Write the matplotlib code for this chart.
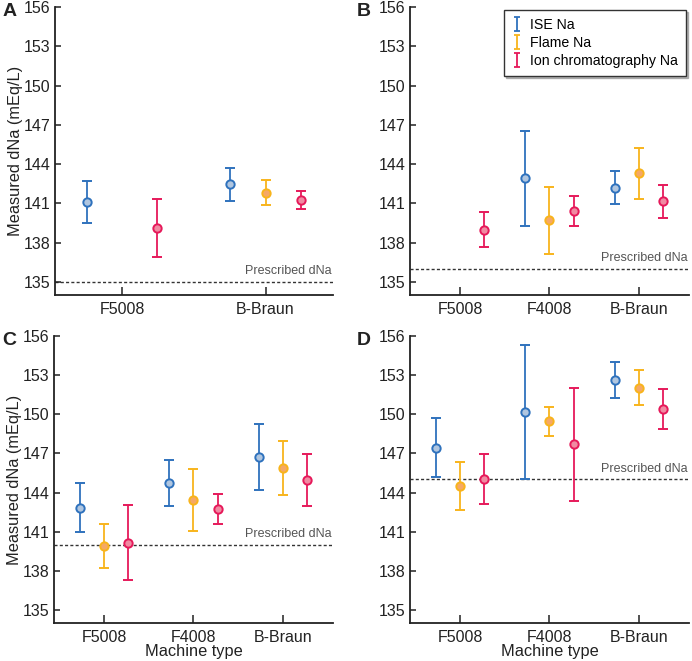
import numpy as np
import matplotlib
matplotlib.use('Agg')
import matplotlib.pyplot as plt

plt.rcParams['font.family'] = ['Liberation Sans', 'DejaVu Sans']

# Data: mean and half-width of error bar, per panel / machine / method
methods = ['ISE Na', 'Flame Na', 'Ion chromatography Na']
colors = ['#2f72bd', '#f8b41c', '#e6195a']
fills = ['#b0c6e0', '#f5a866', '#f08aa2']

machines_A = ['F5008', 'B-Braun']
mean_A = [[141.1, None, 139.1],
          [142.45, 141.8, 141.25]]
err_A = [[1.62, None, 2.23],
         [1.24, 0.95, 0.68]]
prescribed_A = 135

machines_BCD = ['F5008', 'F4008', 'B-Braun']
mean_B = [[None, None, 139.0],
          [142.9, 139.7, 140.4],
          [142.2, 143.3, 141.15]]
err_B = [[None, None, 1.36],
         [3.64, 2.56, 1.14],
         [1.25, 1.93, 1.27]]
prescribed_B = 136

mean_C = [[142.85, 139.9, 140.15],
          [144.75, 143.4, 142.75],
          [146.75, 145.9, 144.95]]
err_C = [[1.9, 1.66, 2.86],
         [1.77, 2.37, 1.17],
         [2.54, 2.08, 1.97]]
prescribed_C = 140

mean_D = [[147.45, 144.5, 145.05],
          [150.15, 149.45, 147.7],
          [152.65, 152.05, 150.4]]
err_D = [[2.26, 1.85, 1.9],
         [5.15, 1.1, 4.35],
         [1.37, 1.32, 1.52]]
prescribed_D = 145

yticks = [135, 138, 141, 144, 147, 150, 153, 156]
text_color = '#222222'

fig = plt.figure(figsize=(6.92, 6.61), dpi=100)
positions = {
    'A': [0.0795, 0.5537, 0.4015, 0.4357],
    'B': [0.5925, 0.5537, 0.4030, 0.4357],
    'C': [0.0780, 0.0575, 0.4030, 0.4342],
    'D': [0.5925, 0.0575, 0.4030, 0.4342],
}


def draw_panel(ax, letter, machines, means, errs, prescribed, offset,
               ylabel=False, xlabel=False):
    for i in range(len(machines)):
        for j in range(3):
            m = means[i][j]
            if m is None:
                continue
            x = i + (j - 1) * offset
            ax.errorbar(x, m, yerr=errs[i][j], color=colors[j], ecolor=colors[j],
                        elinewidth=1.3, capsize=3.6, capthick=1.3, fmt='o',
                        markersize=6, markerfacecolor=fills[j],
                        markeredgecolor=colors[j], markeredgewidth=1.4, zorder=3)
    n = len(machines)
    pad = 0.47 if n == 2 else 0.56
    ax.set_xlim(-pad, n - 1 + pad)
    ax.set_ylim(134, 156)
    ax.axhline(prescribed, color='#333333', linestyle=(0, (2.2, 1.6)),
               linewidth=1.0, zorder=1)
    ax.text(0.995, prescribed + 0.35, 'Prescribed dNa',
            transform=ax.get_yaxis_transform(), ha='right', va='bottom',
            fontsize=9, color='#555555')
    ax.set_xticks(range(n))
    ax.set_xticklabels(machines)
    ax.set_yticks(yticks)
    ax.tick_params(direction='in', width=1.1, labelsize=11.5,
                   color=text_color, labelcolor=text_color)
    ax.tick_params(axis='x', length=6, pad=5)
    ax.tick_params(axis='y', length=4, pad=3)
    for side in ['top', 'right']:
        ax.spines[side].set_visible(False)
    for side in ['left', 'bottom']:
        ax.spines[side].set_linewidth(1.3)
        ax.spines[side].set_color(text_color)
    if ylabel:
        ax.set_ylabel('Measured dNa (mEq/L)', fontsize=11.8, color=text_color,
                      labelpad=1)
    if xlabel:
        ax.set_xlabel('Machine type', fontsize=11.8, color=text_color,
                      labelpad=-1)


axA = fig.add_axes(positions['A'])
draw_panel(axA, 'A', machines_A, mean_A, err_A, prescribed_A, 0.245, ylabel=True)
axB = fig.add_axes(positions['B'])
draw_panel(axB, 'B', machines_BCD, mean_B, err_B, prescribed_B, 0.27)
axC = fig.add_axes(positions['C'])
draw_panel(axC, 'C', machines_BCD, mean_C, err_C, prescribed_C, 0.27,
           ylabel=True, xlabel=True)
axD = fig.add_axes(positions['D'])
draw_panel(axD, 'D', machines_BCD, mean_D, err_D, prescribed_D, 0.27, xlabel=True)

# panel letters
for letter, (x, y) in zip('ABCD', [(0.003, 0.982), (0.515, 0.982),
                                   (0.003, 0.485), (0.515, 0.485)]):
    fig.text(x, y, letter, fontsize=14, fontweight='bold', ha='left',
             va='center', color=text_color)

# legend handles: error bars with caps, no marker
handles = []
for c in colors:
    h = axB.errorbar([np.nan], [np.nan], yerr=[1], color=c, capsize=2.5,
                     elinewidth=1.3, capthick=1.3, fmt='none')
    handles.append(h)
leg = axB.legend(handles, methods, loc='upper right', bbox_to_anchor=(1.0, 1.0),
                 fontsize=10.2, frameon=True, fancybox=False,
                 shadow={'color': '#888888', 'alpha': 0.6, 'ox': 1.5, 'oy': -1.5},
                 handlelength=0.7, handletextpad=0.6, borderpad=0.55,
                 labelspacing=0.3, borderaxespad=0.2, edgecolor='#333333',
                 framealpha=1)
leg.get_frame().set_linewidth(1.0)

fig.savefig('out.png', dpi=100)
